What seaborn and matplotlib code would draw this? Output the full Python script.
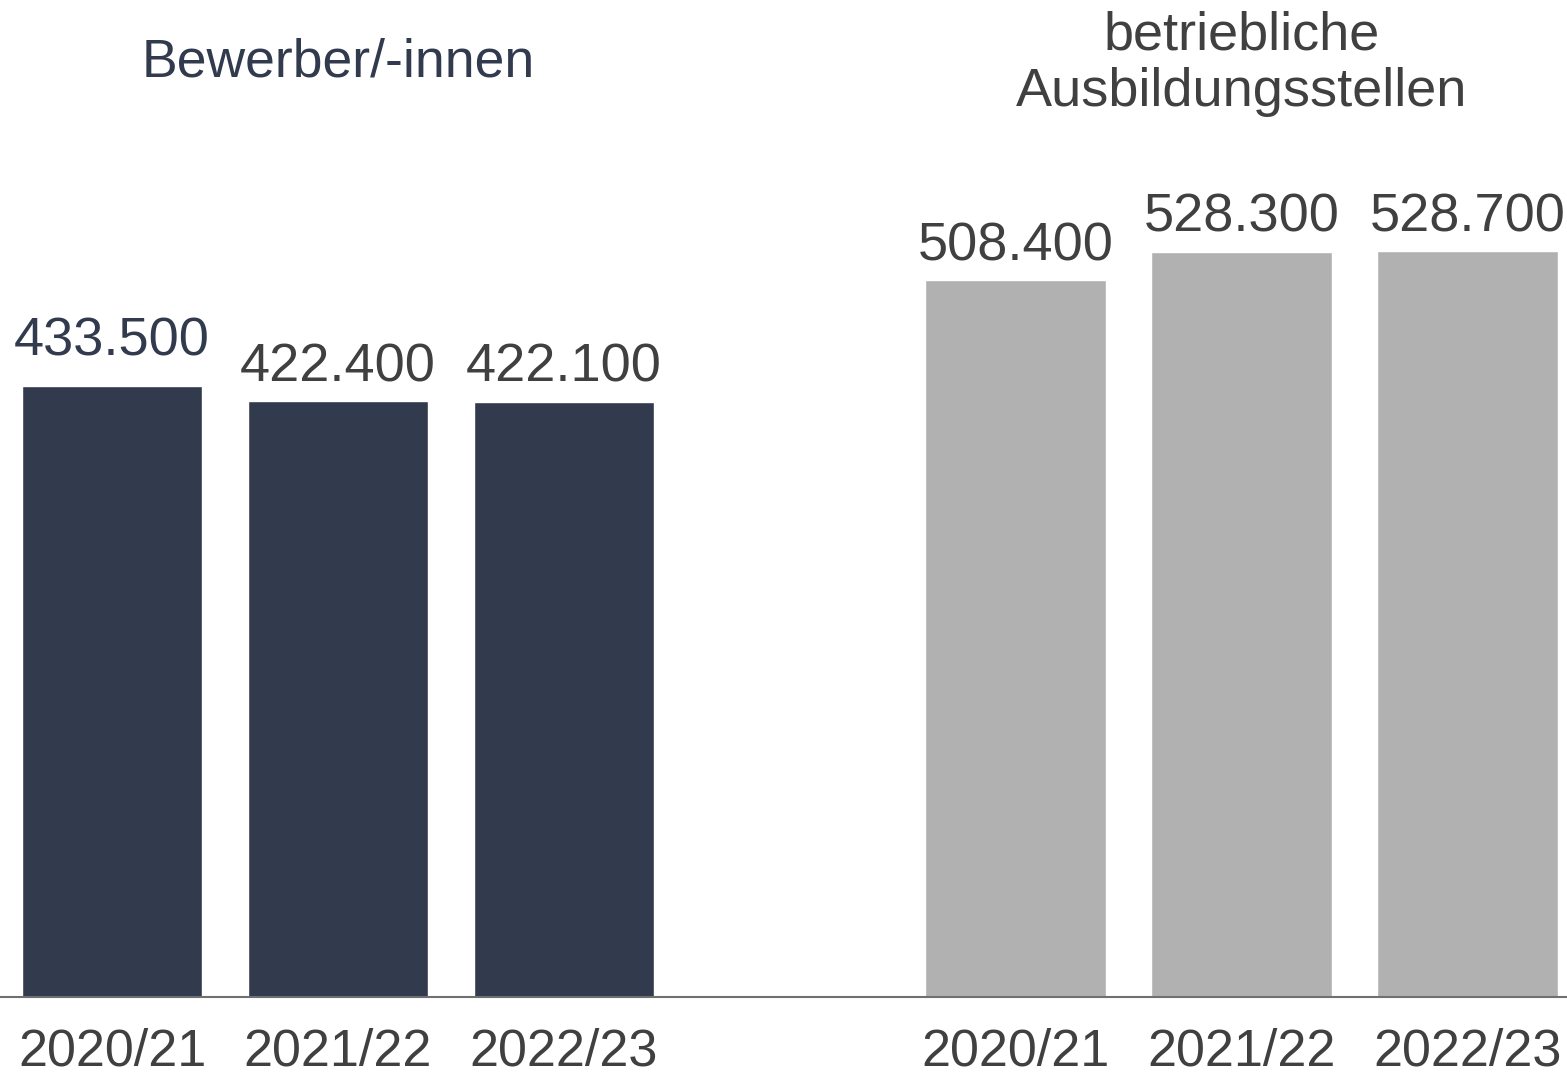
import numpy as np
import pandas as pd
import matplotlib
matplotlib.use("Agg")
import matplotlib.pyplot as plt
import matplotlib.transforms as mtransforms
import seaborn as sns

NAVY = "#323a4e"
GREY_BAR = "#b1b1b1"
TEXT = "#404040"
AXIS = "#707070"

years = ["2020/21", "2021/22", "2022/23"]
groups = ["Bewerber/-innen", "betriebliche\nAusbildungsstellen"]
bewerber = [433500, 422400, 422100]
stellen = [508400, 528300, 528700]

rows = []
for g, (name, vals) in enumerate(zip(groups, [bewerber, stellen])):
    for i, (yr, v) in enumerate(zip(years, vals)):
        # leave one empty slot between the two groups
        rows.append({"pos": g * 4 + i, "year": yr, "group": name, "value": v})
data = pd.DataFrame(rows)

sns.set_theme(style="white")
plt.rcParams["font.family"] = ["Liberation Sans", "DejaVu Sans"]

fig = plt.figure(figsize=(15.67, 10.81), dpi=100)
ax = fig.add_axes([0, 84 / 1081, 1, 1 - 84 / 1081])

sns.barplot(
    data=data, x="pos", y="value", hue="group",
    palette=[NAVY, GREY_BAR], native_scale=True, dodge=False,
    width=0.8, saturation=1, legend=False, ax=ax,
)

all_labels = []
for cont in ax.containers:
    all_labels += ax.bar_label(
        cont, labels=[f"{v:,.0f}".replace(",", ".") for v in cont.datavalues],
        padding=6.5, fontsize=39, color=TEXT,
    )
# first label sits a bit higher and in the bar colour
all_labels[0].set_color(NAVY)
all_labels[0].xyann = (0, 14)

ax.set_xlim(-0.496, 6.44)
ax.set_ylim(0, 707000)
ax.set_xticks(data["pos"])
ax.set_xticklabels(data["year"], fontsize=37.5, color=TEXT)
ax.tick_params(axis="x", length=0, pad=22)
ax.set_yticks([])
ax.set_xlabel("")
ax.set_ylabel("")

for side in ["top", "left", "right"]:
    ax.spines[side].set_visible(False)
ax.spines["bottom"].set_color(AXIS)
ax.spines["bottom"].set_linewidth(1.5)

trans = mtransforms.blended_transform_factory(ax.transData, ax.transAxes)
centers = data.groupby("group", sort=False)["pos"].mean()
ax.text(centers[groups[0]], 0.937, groups[0], transform=trans,
        ha="center", va="center", fontsize=38.5, color=NAVY)
ax.text(centers[groups[1]], 0.936, groups[1], transform=trans,
        ha="center", va="center", fontsize=39, color=TEXT, linespacing=1.15)

fig.savefig("out.png", dpi=100)
